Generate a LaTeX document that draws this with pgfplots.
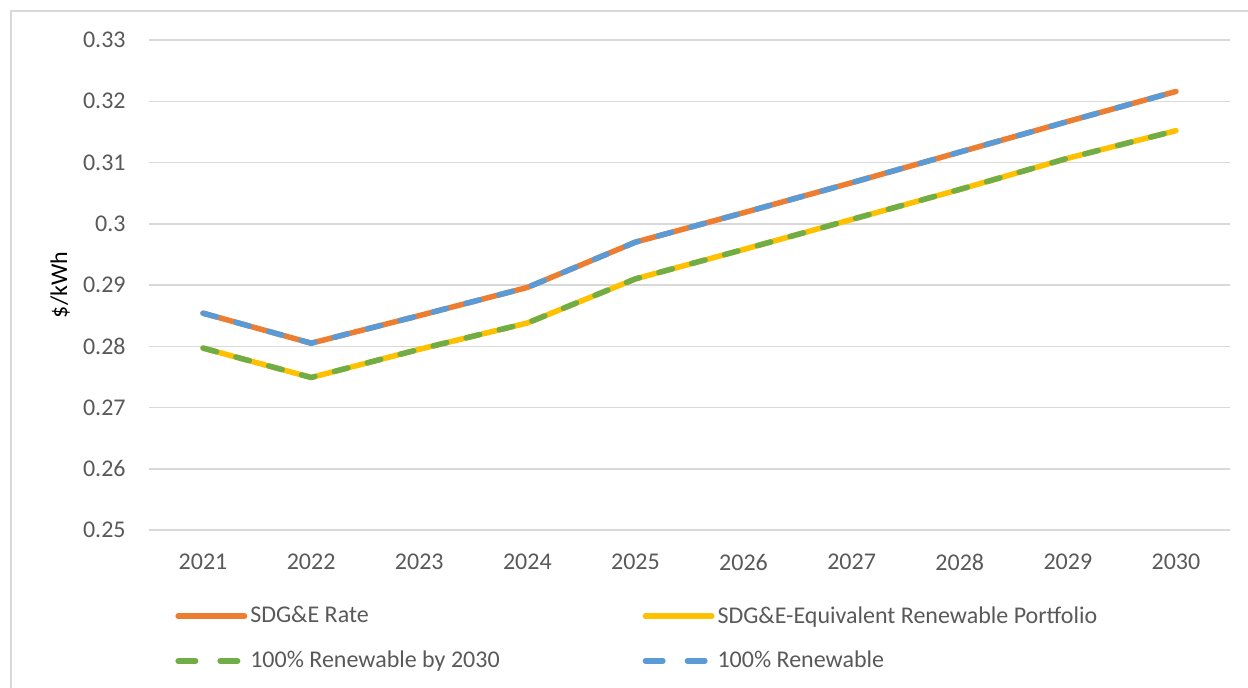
\documentclass[border=0pt]{standalone}
\usepackage{fontspec}
\setmainfont{Carlito}
\usepackage{pgfplots}
\pgfplotsset{compat=1.18}

\definecolor{sdgOrange}{HTML}{ED7D31}
\definecolor{sdgYellow}{HTML}{FFC000}
\definecolor{sdgGreen}{HTML}{70AD47}
\definecolor{sdgBlue}{HTML}{5B9BD5}
\definecolor{gridgray}{HTML}{D9D9D9}
\definecolor{txtgray}{HTML}{595959}

% index 0..9 = 2021..2030
\pgfplotstableread{
x rate equiv
0 0.2854 0.2797
1 0.2805 0.2749
2 0.2850 0.2795
3 0.2896 0.2838
4 0.2970 0.2910
5 0.3018 0.2958
6 0.3067 0.3007
7 0.3117 0.3056
8 0.3167 0.3107
9 0.3216 0.3152
}\rates

\begin{document}
\begin{tikzpicture}
\useasboundingbox (-74.5pt,-78.5pt) rectangle (549.5pt,265pt);
\draw[gridgray, line width=0.75pt] (-69pt,-80pt) -- (-69pt,259.5pt) -- (552pt,259.5pt);
\begin{axis}[
  scale only axis,
  width=540.5pt, height=245pt,
  xmin=-0.5, xmax=9.5,
  ymin=0.25, ymax=0.33,
  ytick={0.25,0.26,...,0.33},
  yticklabels={0.25,0.26,0.27,0.28,0.29,0.3,0.31,0.32,0.33},
  xtick={0,...,9},
  xticklabels={2021,2022,2023,2024,2025,2026,2027,2028,2029,2030},
  axis x line*=bottom, axis y line*=left,
  axis line style={draw=none},
  major tick length=0pt,
  ymajorgrids,
  grid style={gridgray, line width=0.75pt},
  font=\fontsize{12}{14}\selectfont,
  tick label style={txtgray, font=\fontsize{12}{14}\selectfont},
  yticklabel style={inner sep=0pt, anchor=east, xshift=-11.5pt},
  xticklabel style={inner sep=0pt, anchor=north, yshift=-12pt},
  ylabel={\$/kWh},
  ylabel style={txtgray, font=\fontsize{12.5}{14}\selectfont},
  every axis y label/.style={at={(axis description cs:-0.0823,0.5)}, rotate=90, anchor=center},
  every axis plot/.append style={line width=2.75pt, line cap=round, line join=round},
  legend columns=2,
  legend cell align=left,
  legend image code/.code={\draw[#1] (1.4pt,0pt) -- (34.6pt,0pt);},
  legend style={at={(axis description cs:0,0)}, anchor=north west,
    xshift=13pt, yshift=-36.5pt, draw=none, fill=none, inner sep=0pt,
    text=txtgray, font=\fontsize{12}{14}\selectfont,
    nodes={inner sep=1.5pt}, row sep=9.5pt,
    /tikz/column 2/.style={column sep=70pt}},
]
\addplot[sdgOrange] table[x=x, y=rate] {\rates};
\addlegendentry{SDG\&E Rate}
\addplot[sdgYellow] table[x=x, y=equiv] {\rates};
\addlegendentry{SDG\&E-Equivalent Renewable Portfolio}
\addplot[sdgGreen, dash pattern=on 7pt off 10pt,
  legend image post style={dash pattern=on 8.75pt off 12.25pt}] table[x=x, y=equiv] {\rates};
\addlegendentry{100\% Renewable by 2030}
\addplot[sdgBlue, dash pattern=on 7pt off 10pt,
  legend image post style={dash pattern=on 8.75pt off 12.25pt}] table[x=x, y=rate] {\rates};
\addlegendentry{100\% Renewable}
\end{axis}
\end{tikzpicture}
\end{document}
